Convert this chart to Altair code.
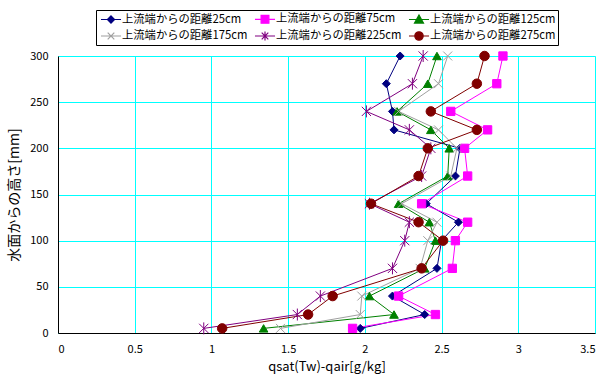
import altair as alt
import pandas as pd

heights = [5, 20, 40, 70, 100, 120, 140, 170, 200, 220, 240, 270, 300]
series_names = ["上流端からの距離25cm", "上流端からの距離75cm", "上流端からの距離125cm",
                "上流端からの距離175cm", "上流端からの距離225cm", "上流端からの距離275cm"]
s25 = [1.97, 2.39, 2.18, 2.47, 2.50, 2.61, 2.40, 2.59, 2.62, 2.19, 2.18, 2.14, 2.23]
s75 = [1.92, 2.46, 2.22, 2.57, 2.59, 2.67, 2.37, 2.67, 2.65, 2.80, 2.56, 2.86, 2.90]
s125 = [1.34, 2.19, 2.03, 2.39, 2.46, 2.42, 2.22, 2.54, 2.55, 2.43, 2.21, 2.41, 2.47]
s175 = [1.45, 1.97, 1.98, 2.36, 2.41, 2.47, 2.24, 2.56, 2.60, 2.48, 2.22, 2.48, 2.54]
s225 = [0.95, 1.56, 1.71, 2.18, 2.26, 2.29, 2.03, 2.37, 2.43, 2.29, 2.01, 2.31, 2.38]
s275 = [1.07, 1.63, 1.79, 2.37, 2.51, 2.35, 2.04, 2.35, 2.41, 2.73, 2.43, 2.73, 2.78]
x_ticks = [0, 0.5, 1, 1.5, 2, 2.5, 3, 3.5]
y_ticks = [0, 50, 100, 150, 200, 250, 300]

colors = ["#000080", "#FF00FF", "#008000", "#A0A0A0", "#800080", "#800000"]
marker_shapes = ["diamond", "square", "triangle-up",
                 "M-1,-1L1,1M-1,1L1,-1",
                 "M-1,-1L1,1M-1,1L1,-1M0,-1.3L0,1.3",
                 "circle"]
marker_sizes = [64, 90, 110, 70, 70, 100]
legend_shapes = [
    "M-1.67,0H1.67M0,-0.6L0.6,0L0,0.6L-0.6,0Z",
    "M-1.67,0H1.67M-0.65,-0.65H0.65V0.65H-0.65Z",
    "M-1.67,0H1.67M0,-0.75L0.75,0.6H-0.75Z",
    "M-1.67,0H1.67M-0.55,-0.55L0.55,0.55M-0.55,0.55L0.55,-0.55",
    "M-1.67,0H1.67M-0.55,-0.55L0.55,0.55M-0.55,0.55L0.55,-0.55M0,-0.75V0.75",
    "M-1.67,0H1.67M0.7,0A0.7,0.7,0,1,1,-0.7,0A0.7,0.7,0,1,1,0.7,0Z",
]

all_series = [s25, s75, s125, s175, s225, s275]
rows = []
for name, vals in zip(series_names, all_series):
    for h, v in zip(heights, vals):
        rows.append({"series": name, "q": v, "h": h})
df = pd.DataFrame(rows)

FONT = "Noto Sans CJK JP"

x_enc = alt.X("q:Q", scale=alt.Scale(domain=[0, 3.5], nice=False),
              axis=alt.Axis(values=x_ticks, format="~g", title="qsat(Tw)-qair[g/kg]",
                            grid=True, gridColor="#00FFFF", gridWidth=1, ticks=False,
                            domainColor="black", labelPadding=10, labelFontSize=11,
                            titleFontSize=13, titleFontWeight="normal", titlePadding=6,
                            labelColor="black", titleColor="black"))
y_enc = alt.Y("h:Q", scale=alt.Scale(domain=[0, 300], nice=False),
              axis=alt.Axis(values=y_ticks, title="水面からの高さ[mm]",
                            grid=True, gridColor="#00FFFF", gridWidth=1, ticks=False,
                            domainColor="black", labelPadding=10, labelFontSize=11,
                            titleFontSize=14, titleFontWeight="normal", titlePadding=8,
                            labelColor="black", titleColor="black"))

base = alt.Chart(df)

lines = base.mark_line(strokeWidth=1, opacity=1).encode(
    x=x_enc, y=y_enc,
    color=alt.Color("series:N", scale=alt.Scale(domain=series_names, range=colors), legend=None),
    order=alt.Order("h:Q"),
)

points = base.mark_point(opacity=1, strokeWidth=1, fillOpacity=1).encode(
    x=x_enc, y=y_enc,
    color=alt.Color("series:N", scale=alt.Scale(domain=series_names, range=colors), legend=None),
    fill=alt.Fill("series:N", scale=alt.Scale(domain=series_names, range=colors), legend=None),
    shape=alt.Shape("series:N", scale=alt.Scale(domain=series_names, range=marker_shapes), legend=None),
    size=alt.Size("series:N", scale=alt.Scale(domain=series_names, range=marker_sizes), legend=None),
)

leg = alt.Legend(title=None, orient="none", legendX=38, legendY=-46, columns=3,
                 direction="horizontal",
                 strokeColor="black", fillColor="white", padding=2,
                 labelFont=FONT, labelFontSize=11.3, labelColor="black",
                 symbolOffset=6, labelOffset=4, columnPadding=4, rowPadding=3,
                 symbolStrokeWidth=1.2, symbolSize=144)

legend_layer = base.transform_filter("false").mark_point(opacity=1, strokeWidth=1.2, size=144).encode(
    x=x_enc, y=y_enc,
    color=alt.Color("series:N", scale=alt.Scale(domain=series_names, range=colors), legend=leg),
    fill=alt.Fill("series:N", scale=alt.Scale(domain=series_names, range=colors), legend=leg),
    shape=alt.Shape("series:N", scale=alt.Scale(domain=series_names, range=legend_shapes), legend=leg),
)

chart = alt.layer(lines, points, legend_layer).resolve_scale(
    color="independent", fill="independent", shape="independent", size="independent"
).properties(
    width=537, height=277,
    autosize=alt.AutoSizeParams(type="none"),
    padding={"left": 58, "top": 56, "right": 8, "bottom": 43},
    background="white",
).configure_view(stroke=None).configure(font=FONT)

chart.save("out.html", embed_options={"renderer": "svg", "actions": False})
